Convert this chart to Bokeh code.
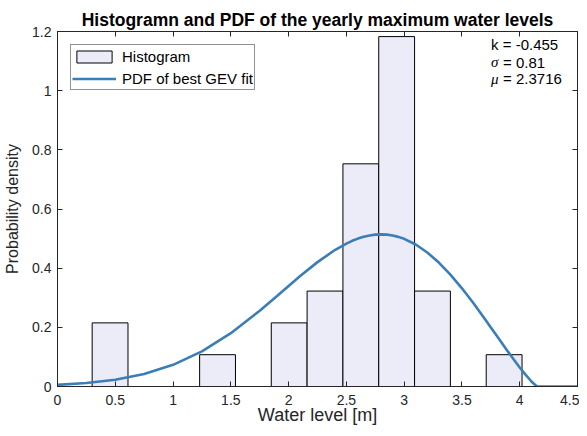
from bokeh.plotting import figure
from bokeh.models import (ColumnDataSource, Range1d, LinearAxis, FixedTicker,
                          Legend, LegendItem, Label)
from bokeh.embed import file_html
from bokeh.resources import INLINE

# ---- data ----
bin_edges = [0.30, 0.61, 0.92, 1.23, 1.54, 1.85, 2.16, 2.47, 2.78, 3.09, 3.40, 3.71, 4.02]
bin_counts = [2, 0, 0, 1, 0, 2, 3, 7, 11, 3, 0, 1]
n_total = 30

pdf_x = [0.0, 0.25, 0.5, 0.75, 1.0, 1.25, 1.5, 1.75, 1.9, 2.0, 2.1, 2.25, 2.4, 2.5,
         2.55, 2.6, 2.65, 2.7, 2.75, 2.8, 2.85, 2.9, 2.95, 3.0, 3.1, 3.2, 3.3, 3.4,
         3.5, 3.6, 3.7, 3.75, 3.8, 3.9, 3.95, 4.0, 4.05, 4.1, 4.12, 4.15, 4.5]
pdf_y = [0.0055, 0.0116, 0.0228, 0.0422, 0.0732, 0.1188, 0.1803, 0.2561, 0.306, 0.340,
         0.3733, 0.4204, 0.4613, 0.4832, 0.4924, 0.4999, 0.506, 0.5105, 0.5133, 0.5143,
         0.5133, 0.5105, 0.5058, 0.4991, 0.4799, 0.4529, 0.4189, 0.3782, 0.3319, 0.2812,
         0.2274, 0.1998, 0.172, 0.117, 0.0902, 0.0644, 0.040, 0.0178, 0.010, 0.0, 0.0]

x_ticks = [0, 0.5, 1, 1.5, 2, 2.5, 3, 3.5, 4, 4.5]
x_tick_labels = ["0", "0.5", "1", "1.5", "2", "2.5", "3", "3.5", "4", "4.5"]
y_ticks = [0, 0.2, 0.4, 0.6, 0.8, 1.0, 1.2]
y_tick_labels = ["0", "0.2", "0.4", "0.6", "0.8", "1", "1.2"]

fit_k = "-0.455"
fit_sigma = "0.81"
fit_mu = "2.3716"

# ---- derived ----
bw = [bin_edges[i + 1] - bin_edges[i] for i in range(len(bin_counts))]
dens = [c / (n_total * w) for c, w in zip(bin_counts, bw)]
hist_src = ColumnDataSource(dict(left=bin_edges[:-1], right=bin_edges[1:],
                                 top=dens, bottom=[0] * len(dens)))
pdf_src = ColumnDataSource(dict(x=pdf_x, y=pdf_y))

FONT = "Liberation Sans"
AX = "#262626"

p = figure(width=579, height=428, output_backend="svg", toolbar_location=None,
           x_range=Range1d(0, 4.5), y_range=Range1d(0, 1.2),
           min_border_left=57, min_border_right=2, min_border_top=31,
           min_border_bottom=42)
p.xgrid.visible = False
p.ygrid.visible = False
p.outline_line_color = AX
p.outline_line_width = 1

p.title.text = "Histogramn and PDF of the yearly maximum water levels"
p.title.text_font = FONT
p.title.text_font_size = "17.5px"
p.title.text_font_style = "bold"
p.title.align = "center"
p.title.text_color = "#000000"
p.title.offset = 0
p.title.standoff = 4

bars = p.quad(left="left", right="right", top="top", bottom="bottom", source=hist_src,
              fill_color="#ECECF9", line_color="#000000", line_width=1)
line = p.line("x", "y", source=pdf_src, line_color="#3B7DB6", line_width=2.6)

for ax in (p.xaxis[0], p.yaxis[0]):
    ax.major_tick_in = 5
    ax.major_tick_out = 0
    ax.minor_tick_line_color = None
    ax.axis_line_color = AX
    ax.major_tick_line_color = AX
    ax.major_label_text_font = FONT
    ax.major_label_text_font_size = "14px"
    ax.major_label_text_color = AX
    ax.axis_label_text_font = FONT
    ax.axis_label_text_font_style = "normal"
    ax.axis_label_text_color = AX

p.xaxis[0].ticker = FixedTicker(ticks=x_ticks)
p.xaxis[0].major_label_overrides = dict(zip(x_ticks, x_tick_labels))
p.xaxis[0].axis_label = "Water level [m]"
p.xaxis[0].axis_label_text_font_size = "18px"
p.xaxis[0].major_label_standoff = 8
p.xaxis[0].axis_label_standoff = -3
p.yaxis[0].ticker = FixedTicker(ticks=y_ticks)
p.yaxis[0].major_label_overrides = dict(zip(y_ticks, y_tick_labels))
p.yaxis[0].axis_label = "Probability density"
p.yaxis[0].axis_label_text_font_size = "16px"
p.yaxis[0].major_label_standoff = 6
p.yaxis[0].axis_label_standoff = 8

blank_x = {t: "" for t in x_ticks}
blank_y = {t: "" for t in y_ticks}
top_ax = LinearAxis(ticker=FixedTicker(ticks=x_ticks), major_tick_in=5, major_tick_out=0,
                    minor_tick_line_color=None, major_label_overrides=blank_x,
                    major_label_standoff=0, axis_line_color=AX, major_tick_line_color=AX)
right_ax = LinearAxis(ticker=FixedTicker(ticks=y_ticks), major_tick_in=5, major_tick_out=0,
                      minor_tick_line_color=None, major_label_overrides=blank_y,
                      major_label_standoff=0, axis_line_color=AX, major_tick_line_color=AX)
p.add_layout(top_ax, "above")
p.add_layout(right_ax, "right")

legend = Legend(items=[LegendItem(label="Histogram", renderers=[bars]),
                       LegendItem(label="PDF of best GEV fit", renderers=[line])],
                location="top_left", margin=13, padding=1, spacing=2,
                glyph_width=44, glyph_height=15, label_height=20, label_standoff=6,
                label_text_font=FONT, label_text_font_size="15px",
                label_text_color="#000000",
                border_line_color="#262626", border_line_width=1,
                background_fill_alpha=1)
p.add_layout(legend, "center")

# annotation text box
lab_kw = dict(text_font_size="15px", text_color="#000000", text_baseline="middle")
p.add_layout(Label(x=3.752, y=1.156, text="k = " + fit_k, text_font=FONT, **lab_kw))
p.add_layout(Label(x=3.752, y=1.096, text="\u03c3", text_font="Liberation Serif",
                   text_font_style="italic", **lab_kw))
p.add_layout(Label(x=3.752, y=1.096, x_offset=12, text="= " + fit_sigma, text_font=FONT, **lab_kw))
p.add_layout(Label(x=3.752, y=1.041, text="\u03bc", text_font="Liberation Serif",
                   text_font_style="italic", **lab_kw))
p.add_layout(Label(x=3.752, y=1.041, x_offset=12, text="= " + fit_mu, text_font=FONT, **lab_kw))

open("out.html", "w").write(file_html(p, INLINE))
